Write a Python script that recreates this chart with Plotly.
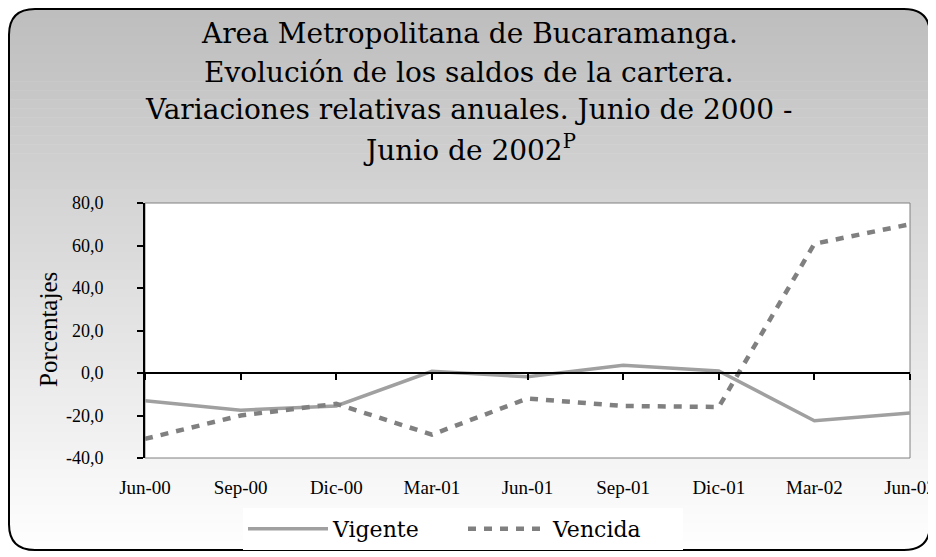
import plotly.graph_objects as go

# %%
periodos = ["Jun-00", "Sep-00", "Dic-00", "Mar-01", "Jun-01", "Sep-01", "Dic-01", "Mar-02", "Jun-02"]
vigente = [-13.0, -17.5, -15.5, 0.8, -1.8, 3.6, 1.0, -22.5, -18.8]
vencida = [-31.0, -20.0, -14.5, -29.0, -12.0, -15.5, -16.0, 60.8, 70.0]
y_ticks = [80, 60, 40, 20, 0, -20, -40]
y_ticktext = ["80,0", "60,0", "40,0", "20,0", "0,0", "-20,0", "-40,0"]
titulo = [
    "Area Metropolitana de Bucaramanga.",
    "Evolución de los saldos de la cartera.",
    "Variaciones relativas anuales. Junio de 2000 -",
    "Junio de 2002<sup>P</sup>",
]

# %%
# the page body has an 8px margin, so the figure is drawn 8px smaller and shifted
OFF = 8
W, H = 936 - OFF, 557 - OFF
L, R, T, B = 145 - OFF, 910 - OFF, 203 - OFF, 458 - OFF
idx = list(range(len(periodos)))


def px(x):
    # x in screenshot pixels -> paper
    return (x - OFF - L) / (R - L)


def py(y):
    return (B - (y - OFF)) / (B - T)


fig = go.Figure()
fig.add_trace(go.Scatter(x=idx, y=vigente, name="Vigente", mode="lines",
                         line=dict(color="#a0a0a0", width=3.5)))
fig.add_trace(go.Scatter(x=idx, y=vencida, name="Vencida", mode="lines",
                         line=dict(color="#808080", width=4.5, dash="8px,8px")))

# background: vertical gray gradient inside a rounded box
shapes = []
bx0, by0, bx1, by1, rad = 9, 9, 930, 550, 26
n = 60
for i in range(n):
    ya = by0 + (by1 - by0) * i / n
    yb = by0 + (by1 - by0) * (i + 1) / n + 0.6
    g = int(190 + (255 - 190) * i / (n - 1))
    shapes.append(dict(type="rect", xref="paper", yref="paper", layer="below",
                       x0=px(bx0), x1=px(bx1), y0=py(ya), y1=py(yb),
                       fillcolor=f"rgb({g},{g},{g})", line=dict(width=0)))


def P(x, y):
    return f"{px(x):.5f},{py(y):.5f}"


corners = [
    (bx0, by0, bx0 + rad, by0, bx0, by0 + rad),
    (bx1, by0, bx1 - rad, by0, bx1, by0 + rad),
    (bx0, by1, bx0 + rad, by1, bx0, by1 - rad),
    (bx1, by1, bx1 - rad, by1, bx1, by1 - rad),
]
for cx, cy, ax, ay, qx, qy in corners:
    sx = -2 if cx == bx0 else 2
    sy = -2 if cy == by0 else 2
    shapes.append(dict(type="path", xref="paper", yref="paper", layer="below",
                       path=f"M {P(cx + sx, cy + sy)} L {P(ax, ay + sy)} L {P(ax, ay)} "
                            f"Q {P(cx, cy)} {P(qx, qy)} L {P(qx + sx, qy)} Z",
                       fillcolor="white", line=dict(width=0)))

border = (f"M {P(bx0 + rad, by0)} L {P(bx1 - rad, by0)} Q {P(bx1, by0)} {P(bx1, by0 + rad)} "
          f"L {P(bx1, by1 - rad)} Q {P(bx1, by1)} {P(bx1 - rad, by1)} "
          f"L {P(bx0 + rad, by1)} Q {P(bx0, by1)} {P(bx0, by1 - rad)} "
          f"L {P(bx0, by0 + rad)} Q {P(bx0, by0)} {P(bx0 + rad, by0)} Z")
shapes.append(dict(type="path", xref="paper", yref="paper", layer="below",
                   path=border, line=dict(color="black", width=2)))
# plot area
shapes.append(dict(type="rect", xref="paper", yref="paper", layer="below",
                   x0=0, x1=1, y0=0, y1=1, fillcolor="white",
                   line=dict(color="#808080", width=1)))

annotations = []
for i, t in enumerate(titulo):
    annotations.append(dict(text=t, xref="paper", yref="paper", x=px(469), y=py(34 + 38 * i),
                            xanchor="center", yanchor="middle", showarrow=False,
                            font=dict(family="DejaVu Serif", size=28, color="black")))
annotations.append(dict(text="Porcentajes", xref="paper", yref="paper", x=px(48), y=py(330),
                        xanchor="center", yanchor="middle", showarrow=False, textangle=-90,
                        font=dict(family="Liberation Serif", size=25, color="black")))

fig.update_layout(
    width=W, height=H,
    margin=dict(l=L, r=W - R, t=T, b=H - B, pad=0, autoexpand=False),
    paper_bgcolor="white", plot_bgcolor="white",
    shapes=shapes, annotations=annotations,
    font=dict(family="Liberation Serif", color="black"),
    legend=dict(orientation="h", x=px(463), y=py(529), xanchor="center", yanchor="middle",
                bgcolor="white", font=dict(family="DejaVu Serif", size=22, color="black"),
                entrywidth=125, itemwidth=80),
    showlegend=True,
)
fig.update_xaxes(range=[0, 8], tickvals=idx, ticktext=periodos, showline=False, ticks="",
                 showgrid=False, zeroline=False, tickfont=dict(size=19),
                 ticklabelstandoff=16, automargin=False)
fig.update_yaxes(range=[-40, 80], tickvals=y_ticks, ticktext=y_ticktext, showgrid=False,
                 zeroline=False, showline=True, linecolor="black", linewidth=2,
                 ticks="outside", ticklen=6, tickcolor="black", tickwidth=1.5,
                 tickfont=dict(size=18), ticklabelstandoff=30, automargin=False)
# zero axis line with tick marks (Excel style)
fig.update_layout(xaxis2=dict(overlaying="x", anchor="free", position=1 / 3, range=[0, 8],
                              tickvals=idx, showticklabels=False, showline=True,
                              linecolor="black", linewidth=2, ticks="outside", ticklen=6,
                              tickcolor="black", tickwidth=1.5, showgrid=False, zeroline=False,
                              side="bottom", automargin=False))
fig.add_trace(go.Scatter(x=[], y=[], xaxis="x2", showlegend=False, hoverinfo="skip"))

fig.write_html("out.html")
